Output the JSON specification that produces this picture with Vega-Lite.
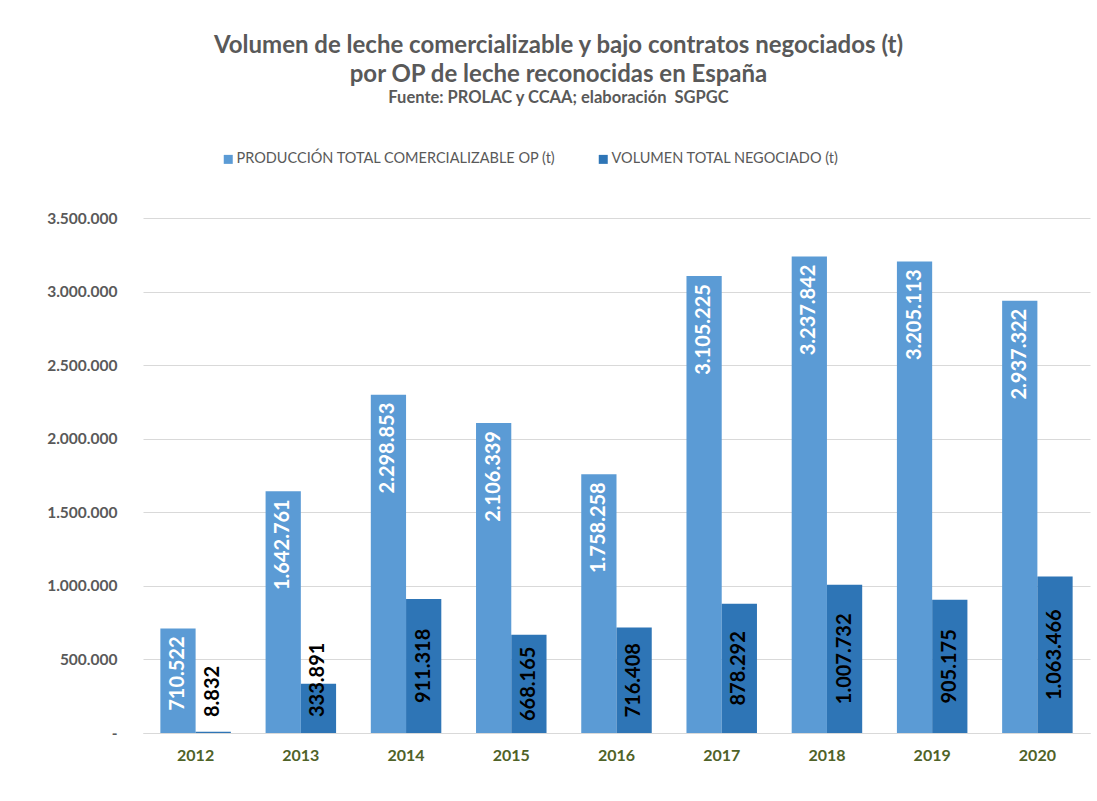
{
  "$schema": "https://vega.github.io/schema/vega-lite/v6.json",
  "width": 947,
  "height": 515,
  "autosize": "none",
  "padding": {"left": 143, "top": 218, "right": 7, "bottom": 68},
  "background": "white",
  "title": {
    "text": ["Volumen de leche comercializable y bajo contratos negociados (t)", "por OP de leche reconocidas en España"],
    "subtitle": "Fuente: PROLAC y CCAA; elaboración\u00a0 SGPGC",
    "anchor": "middle",
    "frame": "group",
    "offset": 46,
    "dx": -58,
    "font": "Lato",
    "fontSize": 24,
    "fontWeight": "bold",
    "lineHeight": 29,
    "color": "#595959",
    "subtitleFont": "Lato",
    "subtitleFontSize": 16.5,
    "subtitleFontWeight": "bold",
    "subtitleColor": "#595959",
    "subtitlePadding": 3
  },
  "data": {
    "values": [
      {"year": "2012", "serie": "PRODUCCIÓN TOTAL COMERCIALIZABLE OP (t)", "v": 710522},
      {"year": "2012", "serie": "VOLUMEN TOTAL NEGOCIADO (t)", "v": 8832},
      {"year": "2013", "serie": "PRODUCCIÓN TOTAL COMERCIALIZABLE OP (t)", "v": 1642761},
      {"year": "2013", "serie": "VOLUMEN TOTAL NEGOCIADO (t)", "v": 333891},
      {"year": "2014", "serie": "PRODUCCIÓN TOTAL COMERCIALIZABLE OP (t)", "v": 2298853},
      {"year": "2014", "serie": "VOLUMEN TOTAL NEGOCIADO (t)", "v": 911318},
      {"year": "2015", "serie": "PRODUCCIÓN TOTAL COMERCIALIZABLE OP (t)", "v": 2106339},
      {"year": "2015", "serie": "VOLUMEN TOTAL NEGOCIADO (t)", "v": 668165},
      {"year": "2016", "serie": "PRODUCCIÓN TOTAL COMERCIALIZABLE OP (t)", "v": 1758258},
      {"year": "2016", "serie": "VOLUMEN TOTAL NEGOCIADO (t)", "v": 716408},
      {"year": "2017", "serie": "PRODUCCIÓN TOTAL COMERCIALIZABLE OP (t)", "v": 3105225},
      {"year": "2017", "serie": "VOLUMEN TOTAL NEGOCIADO (t)", "v": 878292},
      {"year": "2018", "serie": "PRODUCCIÓN TOTAL COMERCIALIZABLE OP (t)", "v": 3237842},
      {"year": "2018", "serie": "VOLUMEN TOTAL NEGOCIADO (t)", "v": 1007732},
      {"year": "2019", "serie": "PRODUCCIÓN TOTAL COMERCIALIZABLE OP (t)", "v": 3205113},
      {"year": "2019", "serie": "VOLUMEN TOTAL NEGOCIADO (t)", "v": 905175},
      {"year": "2020", "serie": "PRODUCCIÓN TOTAL COMERCIALIZABLE OP (t)", "v": 2937322},
      {"year": "2020", "serie": "VOLUMEN TOTAL NEGOCIADO (t)", "v": 1063466}
    ]
  },
  "encoding": {
    "x": {
      "field": "year",
      "type": "nominal",
      "title": null,
      "scale": {"paddingInner": 0.33, "paddingOuter": 0.165},
      "axis": {
        "labelAngle": 0,
        "labelFont": "Lato",
        "labelFontSize": 16,
        "labelFontWeight": "bold",
        "labelColor": "#4F6228",
        "labelPadding": 14,
        "ticks": false,
        "domainColor": "#d9d9d9",
        "domainWidth": 1
      }
    },
    "xOffset": {
      "field": "serie",
      "type": "nominal",
      "sort": ["PRODUCCIÓN TOTAL COMERCIALIZABLE OP (t)", "VOLUMEN TOTAL NEGOCIADO (t)"],
      "scale": {"paddingInner": 0, "paddingOuter": 0}
    }
  },
  "layer": [
    {
      "mark": {"type": "bar"},
      "encoding": {
        "y": {
          "field": "v",
          "type": "quantitative",
          "title": null,
          "scale": {"domain": [0, 3500000], "nice": false},
          "axis": {
            "values": [0, 500000, 1000000, 1500000, 2000000, 2500000, 3000000, 3500000],
            "format": ",d",
            "labelExpr": "datum.value === 0 ? '-' : datum.label",
            "labelFont": "Lato",
            "labelFontSize": 15.5,
            "labelFontWeight": "bold",
            "labelColor": "#595959",
            "labelPadding": 26,
            "ticks": false,
            "domain": false,
            "gridColor": "#d9d9d9",
            "gridWidth": 1
          }
        },
        "color": {
          "field": "serie",
          "type": "nominal",
          "sort": ["PRODUCCIÓN TOTAL COMERCIALIZABLE OP (t)", "VOLUMEN TOTAL NEGOCIADO (t)"],
          "scale": {"range": ["#5B9BD5", "#2E75B6"]},
          "legend": {
            "title": null,
            "orient": "none",
            "direction": "horizontal",
            "legendX": 78,
            "legendY": -66,
            "symbolType": "square",
            "symbolSize": 81,
            "symbolStrokeWidth": 0,
            "labelFont": "Lato",
            "labelFontSize": 14.5,
            "labelColor": "#595959",
            "labelOffset": 1,
            "columnPadding": 40,
            "labelLimit": 500
          }
        }
      }
    },
    {
      "transform": [{"filter": "datum.serie === 'PRODUCCIÓN TOTAL COMERCIALIZABLE OP (t)'"}],
      "mark": {"type": "text", "angle": 270, "align": "right", "baseline": "middle", "dx": -8, "font": "Lato", "fontSize": 20, "fontWeight": "bold", "color": "white"},
      "encoding": {
        "y": {"field": "v", "type": "quantitative"},
        "text": {"field": "v", "type": "quantitative", "format": ",d"}
      }
    },
    {
      "transform": [
        {"filter": "datum.serie === 'VOLUMEN TOTAL NEGOCIADO (t)' && datum.v >= 500000"},
        {"calculate": "datum.v / 2", "as": "mid"}
      ],
      "mark": {"type": "text", "angle": 270, "align": "center", "baseline": "middle", "font": "Lato", "fontSize": 20, "fontWeight": "bold", "color": "black"},
      "encoding": {
        "y": {"field": "mid", "type": "quantitative"},
        "text": {"field": "v", "type": "quantitative", "format": ",d"}
      }
    },
    {
      "transform": [{"filter": "datum.serie === 'VOLUMEN TOTAL NEGOCIADO (t)' && datum.v < 500000"}],
      "mark": {"type": "text", "angle": 270, "align": "left", "baseline": "middle", "dx": 16, "font": "Lato", "fontSize": 20, "fontWeight": "bold", "color": "black"},
      "encoding": {
        "y": {"datum": 0, "type": "quantitative"},
        "text": {"field": "v", "type": "quantitative", "format": ",d"}
      }
    }
  ],
  "config": {
    "view": {"stroke": null},
    "locale": {"number": {"decimal": ",", "thousands": ".", "grouping": [3], "currency": ["", " €"]}}
  }
}
